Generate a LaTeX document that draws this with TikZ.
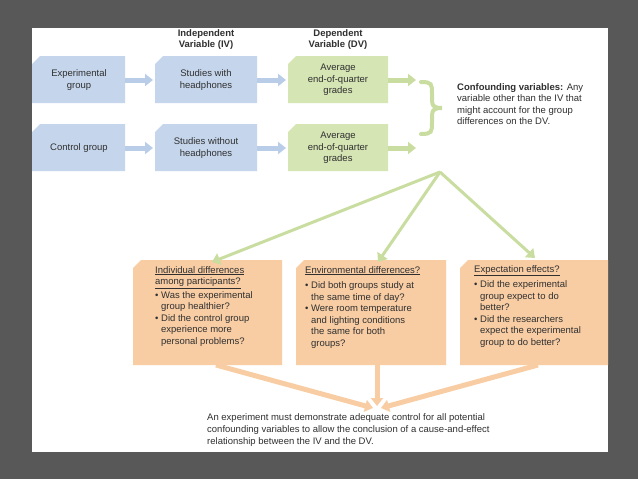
\documentclass[tikz,border=0pt]{standalone}
\usepackage{fontspec}
\setmainfont{Liberation Sans}
\usetikzlibrary{arrows.meta,calc}
\definecolor{bl}{HTML}{C5D6EC}
\definecolor{gr}{HTML}{D5E5B4}
\definecolor{gra}{HTML}{C9DDA0}
\definecolor{blA}{HTML}{B9CDE8}
\definecolor{or}{HTML}{F8CDA4}
\definecolor{txt}{HTML}{303030}
\begin{document}
\begin{tikzpicture}[x=1pt,y=-1pt,
  font=\fontsize{9.5}{11.5}\selectfont, text=txt,
  arr/.style={-{Triangle[width=12pt,length=8pt]},line width=5pt,draw=#1},
  lbl/.style={align=center,inner sep=0}]
\fill[fill={rgb,255:red,88;green,88;blue,88}] (0,0) rectangle (638,479);
\fill[white] (32,28) rectangle (608,452);
\useasboundingbox (0,0) rectangle (638,479);
\newcommand{\chbox}[5]{\fill[#5] (#1+8,#2) -- (#3,#2) -- (#3,#4) -- (#1,#4) -- (#1,#2+8) -- cycle;}
% top boxes
\chbox{32}{56}{125}{103}{bl}
\chbox{155}{56}{257}{103}{bl}
\chbox{288}{56}{388}{103}{gr}
\chbox{32}{124}{125}{171}{bl}
\chbox{155}{124}{257}{171}{bl}
\chbox{288}{124}{388}{171}{gr}
\node[lbl] (e) at (79,80) {Experimental\\group};
\node[lbl] (s1) at (206,80) {Studies with\\headphones};
\node[lbl] (a1) at (338,80) {Average\\end-of-quarter\\grades};
\node[lbl] (c) at (79,148) {Control group};
\node[lbl] (s2) at (206,148) {Studies without\\headphones};
\node[lbl] (a2) at (338,148) {Average\\end-of-quarter\\grades};
\node[lbl,font=\fontsize{9.5}{11}\selectfont\bfseries] (iv) at (206,40) {Independent\\Variable (IV)};
\node[lbl,font=\fontsize{9.5}{11}\selectfont\bfseries] (dv) at (338,40) {Dependent\\Variable (DV)};
\coordinate (e1) at (125,80); \coordinate (e2) at (153,80);
\coordinate (f1) at (257,80); \coordinate (f2) at (286,80);
\coordinate (g1) at (388,80); \coordinate (g2) at (416,80);
\coordinate (h1) at (125,148); \coordinate (h2) at (153,148);
\coordinate (i1) at (257,148); \coordinate (i2) at (286,148);
\coordinate (j1) at (388,148); \coordinate (j2) at (416,148);
\draw[arr=blA] (e1) -- (e2); \draw[arr=blA] (f1) -- (f2); \draw[arr=gra] (g1) -- (g2);
\draw[arr=blA] (h1) -- (h2); \draw[arr=blA] (i1) -- (i2); \draw[arr=gra] (j1) -- (j2);
% brace
\draw[gra,line width=4pt,line cap=round] (421,82) .. controls (432,82) and (432,84) .. (432,94) -- (432,101) .. controls (432,107) and (436,108) .. (442,108) .. controls (436,108) and (432,109) .. (432,115) -- (432,122) .. controls (432,132) and (432,134) .. (421,134);
\node[align=left,inner sep=0,anchor=north west,font=\fontsize{9.5}{11.5}\selectfont] (conf) at (457,83) {\textbf{Confounding variables:} Any\\variable other than the IV that\\might account for the group\\differences on the DV.};
% orange boxes
\chbox{133}{260}{282}{365}{or}
\chbox{296}{260}{446}{365}{or}
\chbox{460}{260}{608}{365}{or}
\coordinate (src) at (440,172);
\coordinate (t1) at (212,262); \coordinate (t2) at (378,262); \coordinate (t3) at (535,258);
\draw[arr=gra,line width=3pt] (src) -- (t1);
\draw[arr=gra,line width=3pt] (src) -- (t2);
\draw[arr=gra,line width=3pt] (src) -- (t3);
\node[inner sep=0,anchor=north west,align=left] (o1) at (155,266) {\underline{Individual differences}\\\underline{among participants?}\\[2pt]
\textbullet\ Was the experimental\\\phantom{\textbullet\ }group healthier?\\\textbullet\ Did the control group\\\phantom{\textbullet\ }experience more\\\phantom{\textbullet\ }personal problems?};
\node[inner sep=0,anchor=north west,align=left] (o2) at (305,266) {\underline{Environmental differences?}\\[4pt]
\textbullet\ Did both groups study at\\\phantom{\textbullet\ }the same time of day?\\\textbullet\ Were room temperature\\\phantom{\textbullet\ }and lighting conditions\\\phantom{\textbullet\ }the same for both\\\phantom{\textbullet\ }groups?};
\node[inner sep=0,anchor=north west,align=left] (o3) at (474,265) {\underline{Expectation effects?}\\[4pt]
\textbullet\ Did the experimental\\\phantom{\textbullet\ }group expect to do\\\phantom{\textbullet\ }better?\\\textbullet\ Did the researchers\\\phantom{\textbullet\ }expect the experimental\\\phantom{\textbullet\ }group to do better?};
\coordinate (b1) at (216,365); \coordinate (b2) at (377,365); \coordinate (b3) at (538,365);
\coordinate (m) at (377,408);
\draw[arr=or,line width=5pt] (b1) -- ($(m)+(-4,0)$);
\draw[arr=or,line width=5pt] (b2) -- ($(m)+(0,-2)$);
\draw[arr=or,line width=5pt] (b3) -- ($(m)+(4,0)$);
\node[inner sep=0,anchor=north west,align=left,font=\fontsize{9.5}{12}\selectfont] (concl) at (207,413) {An experiment must demonstrate adequate control for all potential\\confounding variables to allow the conclusion of a cause-and-effect\\relationship between the IV and the DV.};
\end{tikzpicture}
\end{document}
